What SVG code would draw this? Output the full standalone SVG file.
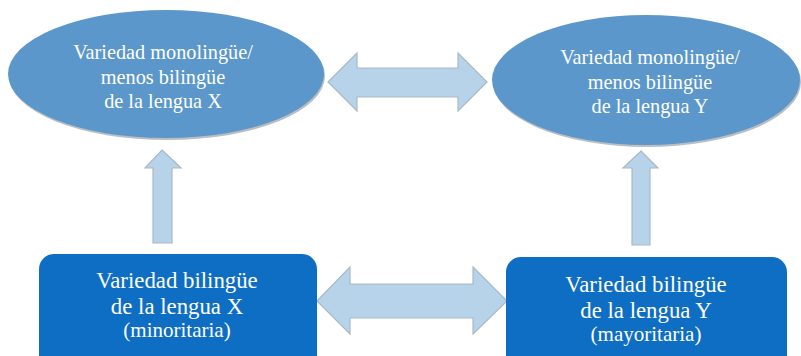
<svg xmlns="http://www.w3.org/2000/svg" width="801" height="356" viewBox="0 0 801 356">
  <style>
    .oval { fill: #5b97ca; }
    .oval-shadow { fill: #b9bec4; }
    .box { fill: #0e6ec4; }
    .arrow { fill: #b7d3ea; stroke: #a9b9c6; stroke-width: 1.2; stroke-linejoin: miter; }
    .lbl { font-family: "Liberation Serif", "DejaVu Serif", serif; fill: #ffffff; text-anchor: middle; }
    .t-oval { font-size: 20.3px; }
    .t-box { font-size: 22.8px; }
    .t-small { font-size: 21px; }
  </style>
  <rect width="801" height="356" fill="#ffffff"/>

  <g id="connectors">
    <!-- horizontal double arrow between the ovals -->
    <path class="arrow" d="M328,82 L357,53 L357,68 L458,68 L458,53 L487,82 L458,111 L458,97 L357,97 L357,111 Z"/>
    <!-- horizontal double arrow between the boxes -->
    <path class="arrow" d="M317,301 L350,267 L350,284 L473,284 L473,267 L507,301 L473,334 L473,318 L350,318 L350,334 Z"/>
    <!-- upward arrows -->
    <path class="arrow" d="M162,150 L181,168 L172,168 L172,243 L153,243 L153,168 L145,168 Z"/>
    <path class="arrow" d="M641,151 L658,168 L650,168 L650,245 L632,245 L632,168 L623,168 Z"/>
  </g>

  <g id="oval-x">
    <ellipse class="oval-shadow" cx="167" cy="76" rx="158" ry="64"/>
    <ellipse class="oval" cx="166" cy="74" rx="158" ry="64"/>
    <text class="lbl t-oval" x="163" y="59">Variedad monolingüe/</text>
    <text class="lbl t-oval" x="163" y="84">menos bilingüe</text>
    <text class="lbl t-oval" x="163" y="108">de la lengua X</text>
  </g>

  <g id="oval-y">
    <ellipse class="oval-shadow" cx="647" cy="82" rx="154" ry="65"/>
    <ellipse class="oval" cx="646" cy="80" rx="154" ry="65"/>
    <text class="lbl t-oval" x="650" y="64">Variedad monolingüe/</text>
    <text class="lbl t-oval" x="650" y="89">menos bilingüe</text>
    <text class="lbl t-oval" x="650" y="113">de la lengua Y</text>
  </g>

  <g id="box-x">
    <rect class="box" x="39" y="254" width="278" height="120" rx="15"/>
    <text class="lbl t-box" x="177" y="288">Variedad bilingüe</text>
    <text class="lbl t-box" x="177" y="314">de la lengua X</text>
    <text class="lbl t-small" x="177" y="337">(minoritaria)</text>
  </g>

  <g id="box-y">
    <rect class="box" x="506" y="257" width="281" height="120" rx="15"/>
    <text class="lbl t-box" x="646" y="292">Variedad bilingüe</text>
    <text class="lbl t-box" x="646" y="318">de la lengua Y</text>
    <text class="lbl t-small" x="646" y="341">(mayoritaria)</text>
  </g>
</svg>
